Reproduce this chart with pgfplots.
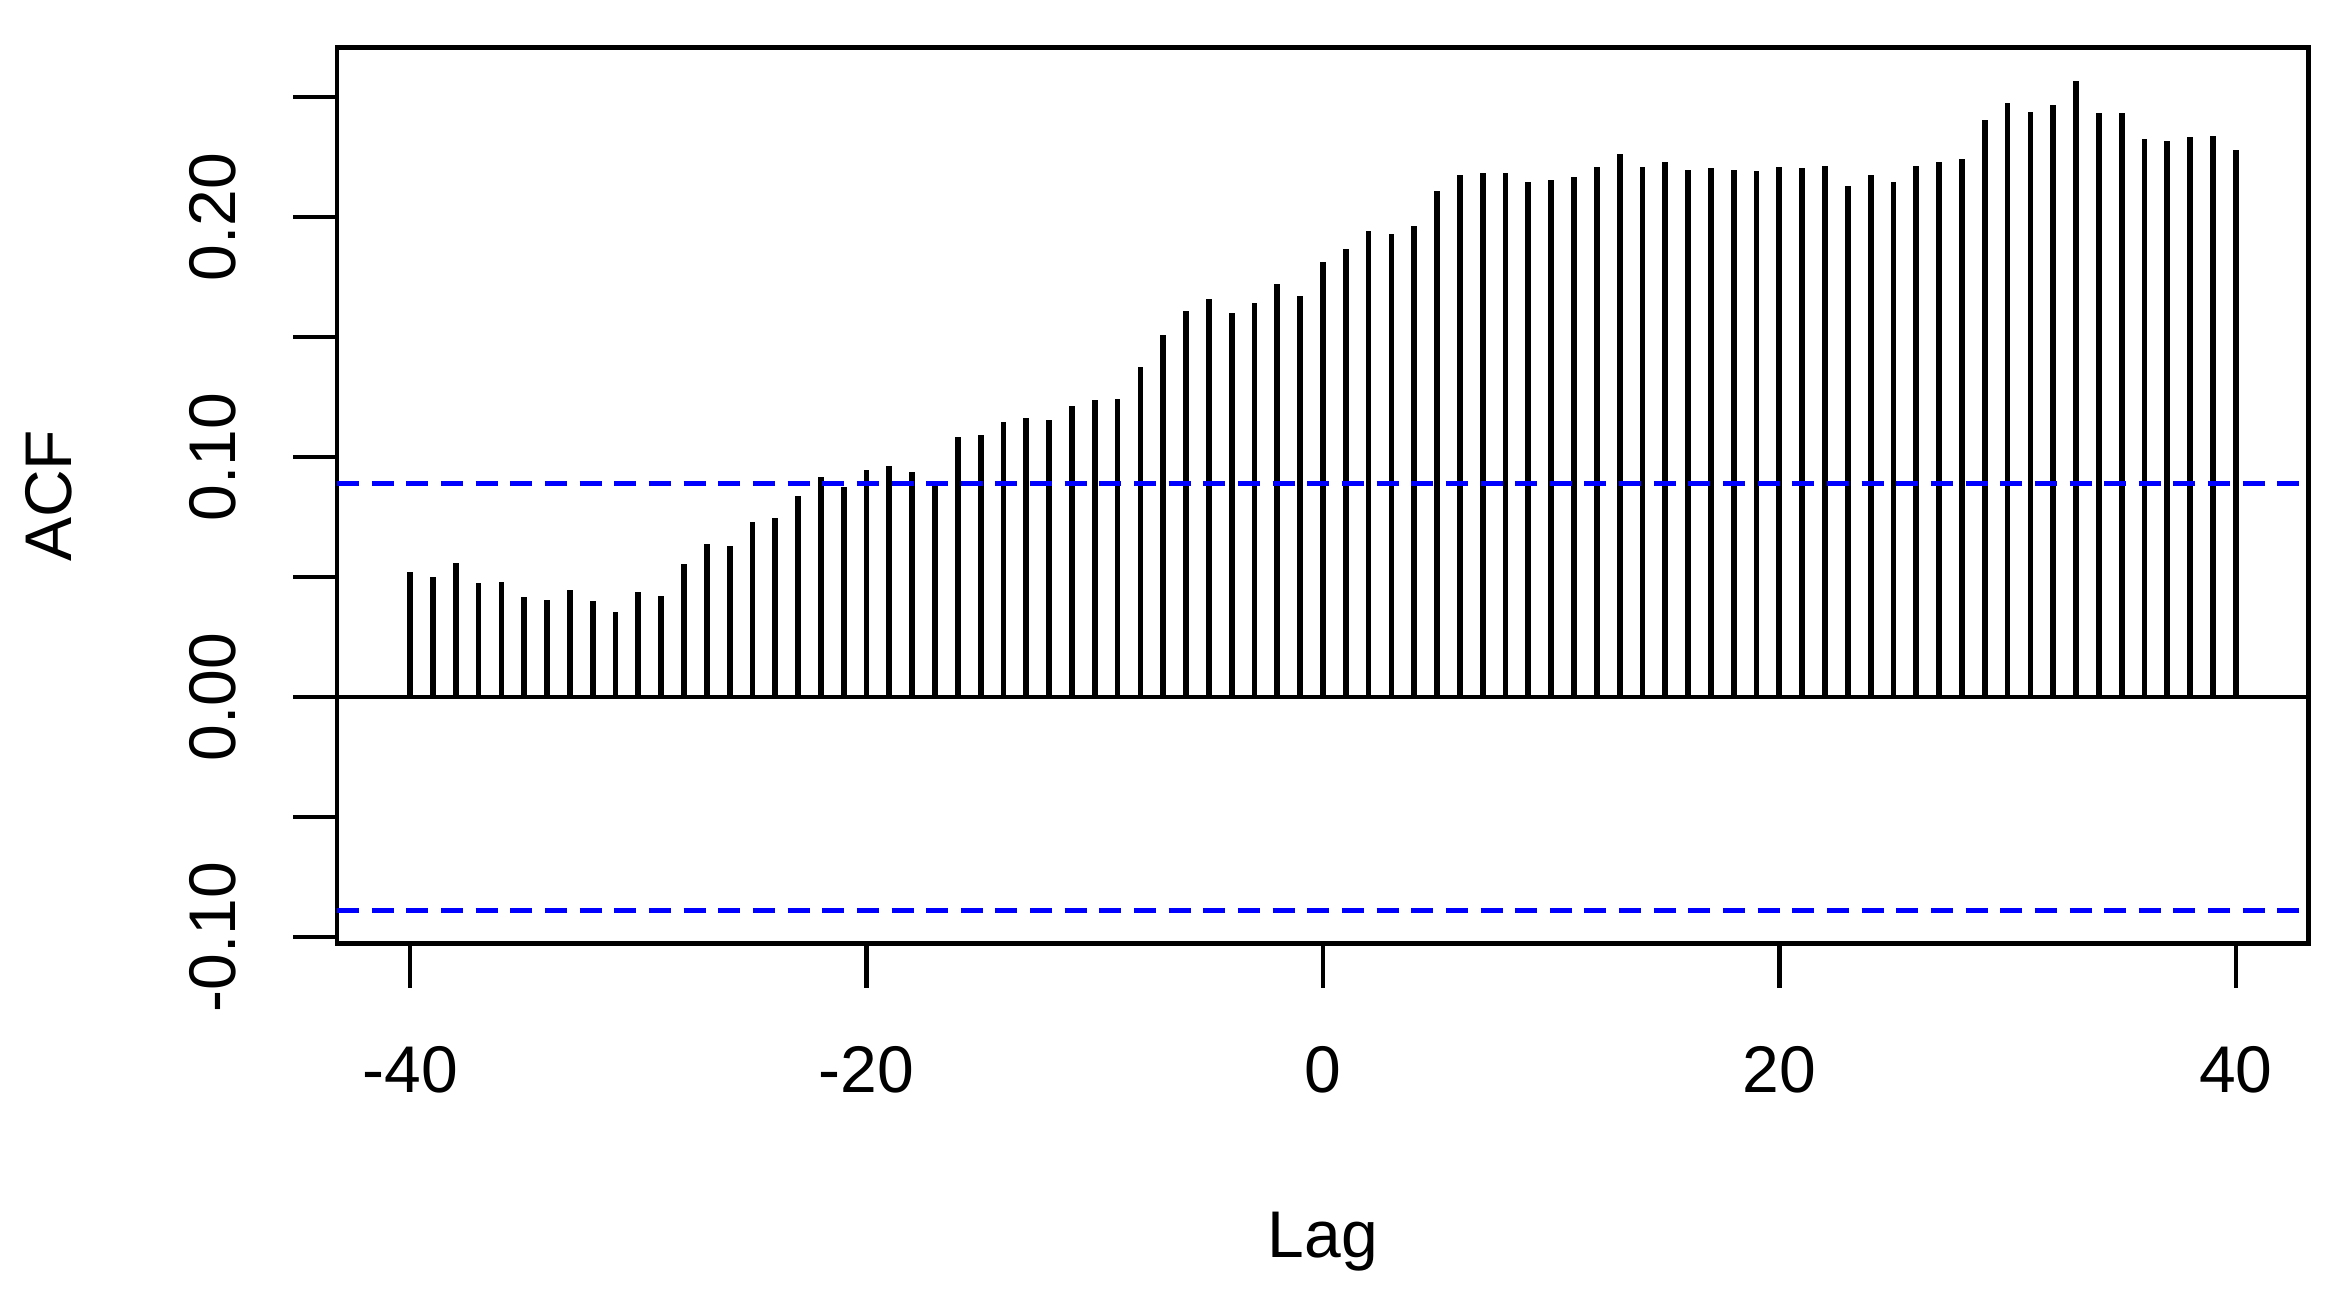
\documentclass[12pt,border=0pt]{standalone}
\usepackage{fontspec}
\setmainfont{Liberation Sans}
\usepackage{pgfplots}
\pgfplotsset{compat=1.18}

\pgfplotstableread{
lag acf
-40 0.0519
-39 0.0498
-38 0.0556
-37 0.0473
-36 0.0477
-35 0.0415
-34 0.0402
-33 0.0445
-32 0.0398
-31 0.0352
-30 0.0436
-29 0.0419
-28 0.0555
-27 0.0636
-26 0.0627
-25 0.0727
-24 0.0747
-23 0.0839
-22 0.0918
-21 0.0876
-20 0.0947
-19 0.0961
-18 0.0937
-17 0.0885
-16 0.1083
-15 0.1090
-14 0.1144
-13 0.1161
-12 0.1154
-11 0.1211
-10 0.1237
-9 0.1242
-8 0.1375
-7 0.1507
-6 0.1608
-5 0.1657
-4 0.1600
-3 0.1640
-2 0.1720
-1 0.1671
0 0.1811
1 0.1865
2 0.1941
3 0.1929
4 0.1961
5 0.2107
6 0.2174
7 0.2184
8 0.2184
9 0.2146
10 0.2155
11 0.2166
12 0.2209
13 0.2260
14 0.2209
15 0.2230
16 0.2196
17 0.2203
18 0.2196
19 0.2191
20 0.2209
21 0.2205
22 0.2210
23 0.2128
24 0.2175
25 0.2146
26 0.2213
27 0.2230
28 0.2242
29 0.2405
30 0.2473
31 0.2438
32 0.2467
33 0.2566
34 0.2434
35 0.2434
36 0.2324
37 0.2317
38 0.2334
39 0.2338
40 0.2277
}\acftable

\begin{document}
\begin{tikzpicture}
\begin{axis}[
    scale only axis,
    width=358.5pt, height=162.9pt,
    xmin=-43.2, xmax=43.2,
    ymin=-0.1028, ymax=0.2704,
    font=\fontsize{12}{14.4}\selectfont,
    axis line style={line width=0.85pt},
    tick align=outside,
    major tick length=8pt,
    tick style={line width=0.8pt, black},
    xtick pos=bottom, ytick pos=left,
    xtick={-40,-20,0,20,40},
    xticklabels={-40,-20,0,20,40},
    ytick={-0.10,-0.05,0,0.05,0.10,0.15,0.20,0.25},
    yticklabels={-0.10,,0.00,,0.10,,0.20,},
    xticklabel style={anchor=base, yshift=-19pt},
    yticklabel style={xshift=-10.4pt, rotate=90, anchor=base},
    xlabel={Lag},
    ylabel={ACF},
    xlabel style={at={(axis description cs:0.5,-0.3505)}, anchor=base},
    ylabel style={at={(axis description cs:-0.1345,0.5)}, anchor=base, rotate=0},
    clip=true,
]
\addplot[ycomb, black, line width=1.05pt, mark=none] table[x=lag, y=acf] {\acftable};
\addplot[black, line width=0.85pt] coordinates {(-43.2,0) (43.2,0)};
\addplot[blue, line width=1pt, dash pattern=on 4pt off 2.3pt] coordinates {(-43.2,0.089) (43.2,0.089)};
\addplot[blue, line width=1pt, dash pattern=on 4pt off 2.3pt] coordinates {(-43.2,-0.089) (43.2,-0.089)};
\end{axis}
\path[use as bounding box] (-61.3pt,-65.7pt) rectangle (366pt,171.6pt);
\end{tikzpicture}
\end{document}
